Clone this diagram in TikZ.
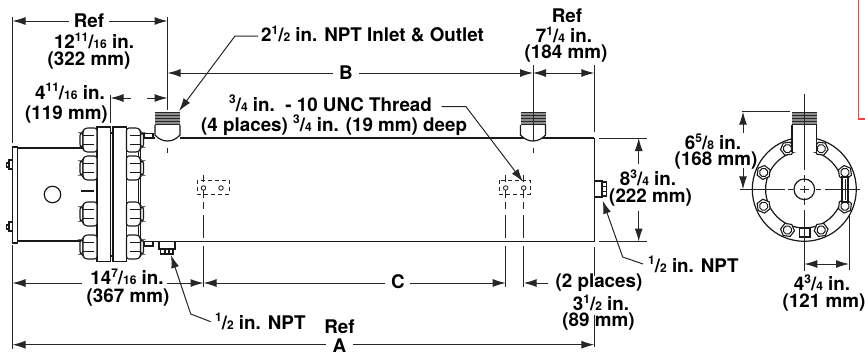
\documentclass[tikz,border=0pt]{standalone}
\usepackage{fontspec}
\setmainfont{TeX Gyre Heros}
\usetikzlibrary{arrows.meta,calc}
\newcommand{\fr}[2]{\raisebox{.38em}{\fontsize{12}{12}\selectfont #1}/{\fontsize{12}{12}\selectfont #2}}
\tikzset{
  x=1pt,y=-1pt,
  lab/.style={font=\fontsize{18.8}{19}\bfseries,inner sep=0pt,text=black,align=center},
  ln/.style={line width=1pt,draw=black!85},
  part/.style={line width=1.2pt,draw=black!90},
  arr/.style={ln,-{Latex[length=13pt,width=8pt]}},
  arrb/.style={ln,{Latex[length=13pt,width=8pt]}-{Latex[length=13pt,width=8pt]}},
  hid/.style={line width=.9pt,draw=black!85,dash pattern=on 4pt off 3pt},
  nut/.style={line width=1.1pt,draw=black!90,fill=white,rounded corners=2.5pt},
}
\newcommand{\bolt}[3]{% x-sign, x-face, y
  \draw[nut] (#2+#1*14,#3-7) rectangle (#2+#1*17,#3+7);
  \draw[nut] (#2,#3-12) -- (#2+#1*12,#3-12) -- (#2+#1*14,#3-9) -- (#2+#1*14,#3+9) -- (#2+#1*12,#3+12) -- (#2,#3+12) -- cycle;
  \draw[nut,fill=none] (#2+#1*14,#3-4.5) -- (#2+#1*3,#3-4.5) (#2+#1*14,#3+4.5) -- (#2+#1*3,#3+4.5);
}
\newcommand{\threads}[2]{% left x, right x
  \fill[black!45] (#1,111.5) rectangle (#2,125);
  \foreach \yy in {112.5,115.5,118.5,121.5,124.5}{\draw[black!85,line width=1.6pt] (#1,\yy) -- (#2,\yy);}
}
\newcommand{\nozzle}[1]{% left x
  \draw[part,fill=white] (#1,125) -- (#1,135) .. controls (#1+7,143) and (#1+18,143) .. (#1+25,135) -- (#1+25,125);
  \threads{#1}{#1+25}
}
\begin{document}
\begin{tikzpicture}
\useasboundingbox (0,0) rectangle (865,354);
% named reference lines
\coordinate (xL) at (12.5,0);
\coordinate (xN) at (167.5,0);
\coordinate (xM) at (533,0);
\coordinate (xR) at (594.3,0);
\coordinate (xH) at (203.5,0);
\coordinate (xJ) at (505.7,0);
\coordinate (xK) at (523.7,0);
\coordinate (xF) at (110.5,0);

% --- red box
\draw[line width=1.3pt,draw=red!75!white] (858.3,-2) -- (858.3,119) -- (867,119);

% --- side view: shell
\draw[part] (17.5,148) -- (85,148) (17.5,241) -- (85,241);
\draw[part,fill=white] (12.5,147) rectangle (17.5,243);
\draw[part,fill=white] (6.5,163) rectangle (9,167);
\draw[part,fill=white] (9,160) rectangle (12.5,169);
\draw[part,fill=white] (6.5,225) rectangle (9,229);
\draw[part,fill=white] (9,222) rectangle (12.5,231);
\node[circle,part,draw,minimum size=16.5pt,inner sep=0pt] (port) at (52.5,194.5) {};
\draw[part] (81,191) -- (94,191);
% body
\draw[part] (180,138) -- (594.3,138) (140,241.5) -- (594.3,241.5);
\draw[part] (594.3,138) -- (594.3,241.5);
\draw[part] (138.5,133) -- (138.5,241.5) (140.5,133) -- (140.5,241.5);
\draw[part] (140,138) -- (155,138);
% flanges
\draw[part,fill=white] (97,127) rectangle (110.5,261.5);
\draw[part,fill=white] (113,127) rectangle (126.5,261.5);
\draw[part] (110.5,133) -- (113,133) (110.5,256) -- (113,256);
% bolts
\foreach \yy in {140,168,214,247}{\bolt{-1}{97}{\yy}\bolt{1}{126.5}{\yy}}
% small fittings
\draw[part,fill=white] (144,133.5) rectangle (153,138);
\draw[part,fill=white] (144,241.5) rectangle (153,246);
\draw[part,fill=white] (159,241.5) rectangle (175,249);
\draw[part,fill=white] (160.5,249) rectangle (173,254);
\draw[part] (165,249) -- (165,254) (169,249) -- (169,254);
\draw[part,fill=white] (594.3,181) rectangle (602,197);
\draw[part,fill=white] (602,182) rectangle (606.5,196);
\draw[part] (602,186.5) -- (606.5,186.5) (602,191.5) -- (606.5,191.5);
% nozzles
\nozzle{155}
\nozzle{520.5}
% hidden tapped holes
\draw[hid] (197,180) rectangle (229,194);
\draw[hid] (499,180) rectangle (530,194);
\foreach \cx/\nm in {203.5/ha,221/hb,505.7/hc,523.7/hd}{\node[circle,draw=black!85,line width=.9pt,minimum size=4.5pt,inner sep=0pt] (\nm) at (\cx,188) {};}
% centre lines
\draw[ln] (xN |- 0,17) -- (xN |- 0,110);
\draw[ln] (xN |- 0,148) -- (xN |- 0,153);
\draw[ln] (xM |- 0,65) -- (xM |- 0,141);
\draw[ln] (xM |- 0,148) -- (xM |- 0,153);
\draw[ln] (xR |- 0,65) -- (xR |- 0,132);
\draw[ln] (xF |- 0,95) -- (xF |- 0,123);
\draw[ln] (xL |- 0,17) -- (xL |- 0,143);
\draw[ln] (xL |- 0,245) -- (xL |- 0,349);
\foreach \xx in {xH,xJ,xK}{
  \draw[ln] (\xx |- 0,175) -- (\xx |- 0,182);
  \draw[ln] (\xx |- 0,190) -- (\xx |- 0,198);
  \draw[ln] (\xx |- 0,202) -- (\xx |- 0,209);
  \draw[ln] (\xx |- 0,215) -- (\xx |- 0,238);
  \draw[ln] (\xx |- 0,246) -- (\xx |- 0,287);
}
\draw[ln] (xR |- 0,247) -- (xR |- 0,276);
\draw[ln] (xR |- 0,315) -- (xR |- 0,347);

% --- texts
\node[lab] (tRef) at (89,21) {Ref};
\node[lab] (tA) at (94,41) {12\fr{11}{16} in.};
\node[lab] (tB) at (89,60.5) {(322 mm)};
\node[lab,anchor=base west] (tC) at (35,99) {4\fr{11}{16} in.};
\node[lab,anchor=base west] (tD) at (25,119) {(119 mm)};
\node[lab,anchor=base west] (tInlet) at (261,41.5) {2\fr{1}{2} in. NPT Inlet \& Outlet};
\node[lab] (tBB) at (346,73) {B};
\node[lab] (tR2) at (567,15.5) {Ref};
\node[lab] (tE) at (564,35) {7\fr{1}{4} in.};
\node[lab] (tF) at (566,54) {(184 mm)};
\node[lab,anchor=base west] (tThr) at (229,111) {\fr{3}{4} in.\ \ - 10 UNC Thread};
\node[lab,anchor=base west] (tPl) at (201,131) {(4 places) \fr{3}{4} in. (19 mm) deep};
\node[lab] (tG) at (648,178) {8\fr{3}{4} in.};
\node[lab] (tH) at (650.5,197.5) {(222 mm)};
\node[lab] (tI) at (713,142) {6\fr{5}{8} in.};
\node[lab] (tJ) at (716,161) {(168 mm)};
\node[lab] (tK) at (127,277) {14\fr{7}{16} in.};
\node[lab] (tL) at (128,297.5) {(367 mm)};
\node[lab] (tCC) at (398,282) {C};
\node[lab,anchor=base west] (tN1) at (215,329) {\fr{1}{2} in. NPT};
\node[lab,anchor=base west] (tN2) at (648,272) {\fr{1}{2} in. NPT};
\node[lab] (tP) at (599,283) {(2 places)};
\node[lab] (tQ) at (601,303) {3\fr{1}{2} in.};
\node[lab] (tS) at (598.5,322) {(89 mm)};
\node[lab] (tT) at (339.5,327) {Ref};
\node[lab,anchor=base] (tAA) at (339.5,352) {A};
\node[lab] (tU) at (822,283) {4\fr{3}{4} in.};
\node[lab] (tV) at (824,302.5) {(121 mm)};

% --- dimensions
\draw[arr] ([xshift=-5pt]tRef.west) -- (xL |- tRef);
\draw[arr] ([xshift=5pt]tRef.east) -- (xN |- tRef);
\coordinate (c1) at (131,98); \coordinate (c2) at (147,98);
\draw[arr] (c1) -- (xF |- c1);
\draw[arr] (c2) -- (xN |- c2);
\draw[arr] ([xshift=-6pt]tBB.west) -- (xN |- tBB);
\draw[arr] ([xshift=6pt]tBB.east) -- (xM |- tBB);
\coordinate (c3) at (0,73);
\draw[arrb] (xM |- c3) -- (xR |- c3);
\coordinate (c4) at (0,283);
\coordinate (k0) at (82,283);
\draw[arr] (k0) -- (xL |- c4);
\coordinate (k1) at (167,283);
\draw[arr] (k1) -- (xH |- c4);
\coordinate (k3) at (385,283); \coordinate (k4) at (410,283);
\draw[arr] (k3) -- (xH |- c4);
\draw[arr] (k4) -- (xJ |- c4);
\coordinate (k2) at (548,283);
\draw[arr] (k2) -- (xK |- c4);
\coordinate (c5) at (326,344.7); \coordinate (c6) at (353,344.7);
\draw[arr] (c5) -- (xL |- c5);
\draw[arr] (c6) -- (xR |- c6);
% overall height
\coordinate (h1) at (638.7,138); \coordinate (h2) at (638.7,241.5);
\draw[ln] (599,138) -- (647,138) (599,241.5) -- (647,241.5);
\coordinate (h3) at (638.7,164); \coordinate (h4) at (638.7,211);
\draw[arr] (h3) -- (h1);
\draw[arr] (h4) -- (h2);
% leaders
\coordinate (l1a) at (258,36); \coordinate (l1b) at (235,36); \coordinate (l1c) at (179,111);
\draw[arr] (l1a) -- (l1b) -- (l1c);
\coordinate (l2a) at (441.7,106.7); \coordinate (l2b) at (466,106.7); \coordinate (l2c) at (523,181.7);
\draw[arr] (l2a) -- (l2b) -- (l2c);
\coordinate (l3a) at (210.7,321.7); \coordinate (l3b) at (190.7,314); \coordinate (l3c) at (171,255);
\draw[arr] (l3a) -- (l3b) -- (l3c);
\coordinate (l4a) at (643,264); \coordinate (l4b) at (622.7,257); \coordinate (l4c) at (602.7,200.7);
\draw[arr] (l4a) -- (l4b) -- (l4c);

% --- end view
\coordinate (E) at (804.3,189.3);
\draw[part] (E) circle[radius=52];
\draw[part] (E) circle[radius=38.7];
\foreach \ang in {22.5,67.5,...,337.5}{
  \begin{scope}[shift={($(E)+(\ang:44)$)},rotate=\ang]
    \draw[line width=1.1pt,draw=black!90,fill=white] (0:7) -- (60:7) -- (120:7) -- (180:7) -- (240:7) -- (300:7) -- cycle;
    \draw[line width=1pt,draw=black!90] (0,0) circle[radius=4.2];
  \end{scope}
}
\fill[white] (792,125) rectangle (816.7,152);
\draw[part] (792,125) -- (792,152) (816.7,125) -- (816.7,152);
\threads{792}{816.7}
\node[circle,part,draw,minimum size=20.6pt,inner sep=0pt] (hub) at (E) {};
\draw[part,fill=white] (842,177) rectangle (848,202);
\draw[ln] (845,179) -- (845,200);
\draw[part,fill=white] (799.5,228) rectangle (810,237);
\draw[ln] (804.3,94) -- (804.3,170);
\draw[ln] (804.3,175) -- (804.3,182) (804.3,186) -- (804.3,193) (804.3,198) -- (804.3,205);
\draw[ln] (804.3,210) -- (804.3,271);
\draw[ln] (740,189.3) -- (785,189.3) (788,189.3) -- (793,189.3) (800,189.3) -- (809,189.3) (816,189.3) -- (821,189.3) (825,189.3) -- (860,189.3);
\draw[ln] (741.5,111.7) -- (790,111.7);
\coordinate (v1) at (743,111.7); \coordinate (v2) at (743,189.3);
\coordinate (v3) at (743,133); \coordinate (v4) at (743,168);
\draw[arr] (v3) -- (v1);
\draw[arr] (v4) -- (v2);
\draw[ln] (849,215) -- (849,270);
\coordinate (w1) at (804.3,264); \coordinate (w2) at (849,264);
\draw[arrb] (w1) -- (w2);
\end{tikzpicture}
\end{document}
